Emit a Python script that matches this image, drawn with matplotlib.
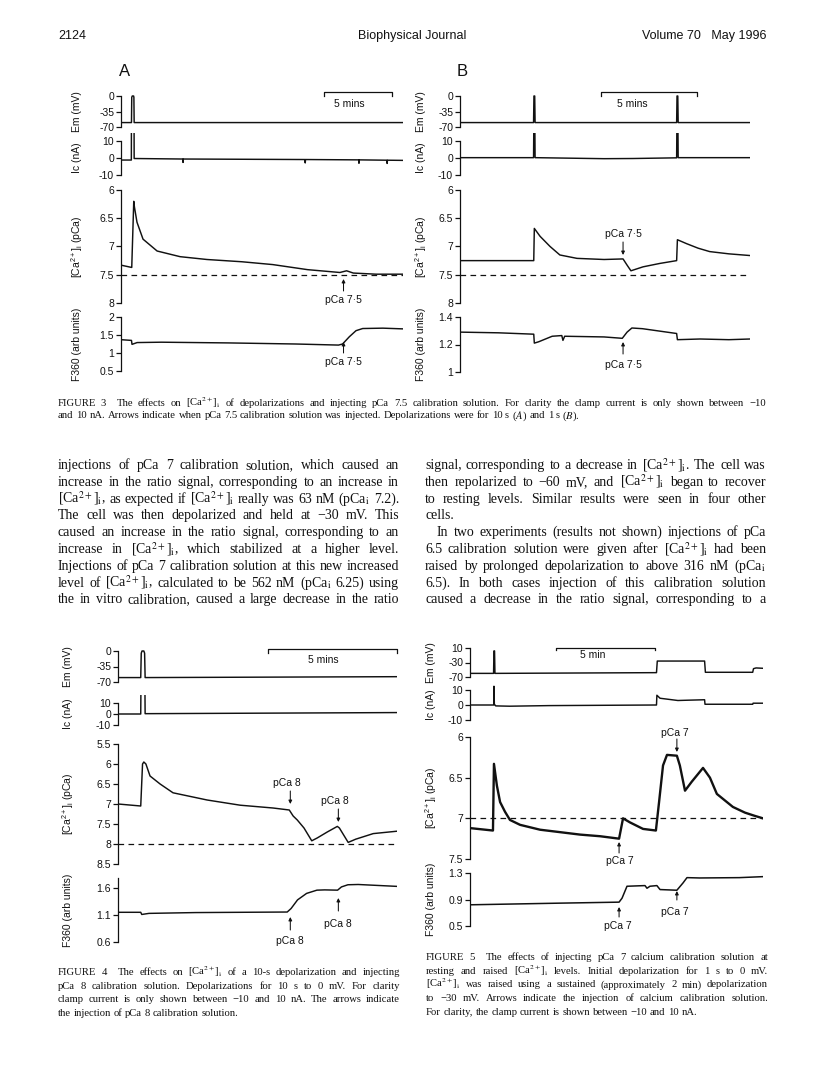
import matplotlib
matplotlib.use("Agg")
import matplotlib.pyplot as plt
from matplotlib import font_manager
from matplotlib.transforms import blended_transform_factory, IdentityTransform

# ---------------- data (time in min) ----------------
# Figure 3A
em3a_t = [0, 0.78, 0.8, 0.84, 0.94, 0.96, 0.98, 21.0]
em3a = [-60, -60, -3, 0, 0, -3, -60, -60]
ic3a_t = [0, 0.77, 0.78, 0.97, 0.98, 4.6, 4.62, 4.64, 13.7, 13.72, 13.74,
          17.7, 17.72, 17.74, 19.8, 19.82, 19.84, 21.0]
ic3a = [-1.2, -1.2, 30, 30, -0.3, -0.6, -2.6, -0.6, -0.9, -2.9, -0.9,
        -1.1, -3.1, -1.1, -1.3, -3.2, -1.3, -1.4]
ca3a_t = [0, 0.78, 0.8, 0.95, 1.0, 1.19, 1.64, 2.69, 4.4, 6.4, 9.0, 11.3,
          13.9, 16.3, 16.8, 17.3, 19.0, 21.0]
ca3a = [7.33, 7.37, 7.37, 6.2, 6.3, 6.57, 6.87, 7.08, 7.18, 7.23, 7.27, 7.32,
        7.41, 7.46, 7.43, 7.47, 7.49, 7.49]
f3a_t = [0, 0.78, 0.82, 1.2, 3.0, 8.0, 13.0, 16.2, 16.5, 17.0, 17.5, 18.0, 19.5, 21.0]
f3a = [1.37, 1.35, 1.24, 1.29, 1.3, 1.28, 1.25, 1.22, 1.25, 1.45, 1.62, 1.68, 1.69, 1.67]

# Figure 3B
em3b_t = [0, 3.83, 3.85, 3.89, 3.91, 11.28, 11.3, 11.34, 11.36, 15.1]
em3b = [-60, -60, 0, 0, -60, -60, 0, 0, -60, -60]
ic3b_t = [0, 3.83, 3.85, 3.89, 3.91, 7.5, 9.0, 11.28, 11.3, 11.34, 11.36, 15.1]
ic3b = [0.2, 0.2, 30, 30, 0.2, -0.4, -0.3, 0.1, 30, 30, 0.2, 0.2]
ca3b_t = [0, 3.84, 3.87, 4.17, 4.69, 5.2, 6.09, 7.5, 8.49, 8.7, 8.9, 9.53, 10.4,
          11.28, 11.32, 11.8, 12.4, 13.0, 14.0, 15.1]
ca3b = [7.25, 7.25, 6.68, 6.82, 7.0, 7.15, 7.21, 7.23, 7.22, 7.33, 7.43, 7.36, 7.3,
        7.25, 6.88, 6.95, 7.03, 7.09, 7.13, 7.16]
f3b_t = [0, 2.0, 3.84, 3.87, 4.1, 4.8, 5.3, 5.36, 5.45, 7.5, 8.45, 8.7, 8.95, 9.5,
         11.28, 11.32, 12.5, 14.0, 15.1]
f3b = [1.29, 1.285, 1.275, 1.21, 1.22, 1.26, 1.265, 1.23, 1.26, 1.255, 1.245, 1.29,
       1.32, 1.315, 1.28, 1.235, 1.24, 1.235, 1.24]

# Figure 4
em4_t = [0, 0.88, 0.9, 0.93, 1.0, 1.03, 1.05, 10.8]
em4 = [-60, -60, -5, 0, 0, -5, -60, -58]
ic4_t = [0, 0.88, 0.89, 1.04, 1.05, 6.0, 10.8]
ic4 = [0, 0, 30, 30, 0.3, 0.8, 1.3]
ca4_t = [0, 0.88, 0.95, 1.0, 1.08, 1.24, 1.63, 2.13, 3.45, 4.73, 6.0, 6.63, 6.78,
         6.94, 7.2, 7.5, 7.71, 8.1, 8.49, 8.57, 8.91, 9.2, 9.88, 10.8]
ca4 = [7.0, 7.05, 6.0, 5.95, 6.0, 6.3, 6.5, 6.72, 6.9, 7.03, 7.1, 7.15, 7.3,
       7.4, 7.6, 7.92, 7.85, 7.7, 7.56, 7.6, 7.96, 7.88, 7.74, 7.68]
f4_t = [0, 0.88, 0.92, 1.2, 3.0, 6.55, 6.7, 6.95, 7.3, 7.7, 8.0, 8.5, 8.65, 8.9, 9.3, 10.8]
f4 = [1.15, 1.15, 1.11, 1.13, 1.145, 1.155, 1.22, 1.38, 1.5, 1.56, 1.565, 1.56,
      1.62, 1.66, 1.665, 1.63]

# Figure 5
em5_t = [0, 1.19, 1.21, 1.24, 1.26, 9.42, 9.46, 11.85, 11.89, 14.28, 14.32, 14.45, 14.8]
em5 = [-60, -60, 2, 2, -60, -58, -26, -26, -57, -57, -47, -45, -46]
ic5_t = [0, 1.2, 1.21, 1.23, 1.3, 2.0, 4.0, 9.42, 9.44, 9.6, 10.5, 11.0, 11.85,
         11.87, 14.28, 14.3, 14.8]
ic5 = [0, 0, 12.5, 0.5, -0.6, -0.8, -0.4, 0, 6.5, 4.5, 3, 3.2, 3.5, 0.5, 0.5, 1.2, 1.2]
ca5_t = [0, 1.16, 1.21, 1.36, 1.52, 1.77, 2.02, 2.53, 3.54, 4.55, 5.56, 6.57, 7.53,
         7.73, 8.08, 8.74, 9.39, 9.55, 9.75, 9.95, 10.45, 10.6, 10.86, 11.2, 11.77,
         12.12, 12.47, 13.28, 13.89, 14.39, 14.8]
ca5 = [7.12, 7.15, 6.33, 6.6, 6.8, 6.92, 7.02, 7.08, 7.14, 7.17, 7.2, 7.22, 7.25,
       7.0, 7.05, 7.13, 7.15, 6.8, 6.35, 6.22, 6.23, 6.35, 6.66, 6.55, 6.38,
       6.5, 6.7, 6.86, 6.93, 6.97, 7.0]
f5_t = [0, 4.55, 7.53, 7.68, 7.93, 8.84, 8.94, 9.09, 9.44, 9.6, 10.45, 10.76, 10.96,
        11.6, 13.6, 14.8]
f5 = [0.82, 0.845, 0.86, 0.92, 1.1, 1.11, 1.07, 1.1, 1.11, 1.05, 1.04, 1.15, 1.23,
      1.225, 1.23, 1.245]

# ---------------- text ----------------
CA = r"[Ca$^{2+}$]$_\mathrm{i}$"
PCAI = r"pCa$_\mathrm{i}$"
body_left = [
    "injections of pCa 7 calibration solution, which caused an",
    "increase in the ratio signal, corresponding to an increase in",
    CA + ", as expected if " + CA + " really was 63 nM (" + PCAI + " 7.2).",
    "The cell was then depolarized and held at \u221230 mV. This",
    "caused an increase in the ratio signal, corresponding to an",
    "increase in " + CA + ", which stabilized at a higher level.",
    "Injections of pCa 7 calibration solution at this new increased",
    "level of " + CA + ", calculated to be 562 nM (" + PCAI + " 6.25) using",
    "the in vitro calibration, caused a large decrease in the ratio",
]
body_right = [
    "signal, corresponding to a decrease in " + CA + ". The cell was",
    "then repolarized to \u221260 mV, and " + CA + " began to recover",
    "to resting levels. Similar results were seen in four other",
    "cells.",
    "In two experiments (results not shown) injections of pCa",
    "6.5 calibration solution were given after " + CA + " had been",
    "raised by prolonged depolarization to above 316 nM (" + PCAI,
    "6.5). In both cases injection of this calibration solution",
    "caused a decrease in the ratio signal, corresponding to a",
]
cap3 = [
    "FIGURE 3\u00a0\u00a0 The effects on " + CA + " of depolarizations and injecting pCa 7.5 calibration solution. For clarity the clamp current is only shown between \u221210",
    r"and 10 nA. Arrows indicate when pCa 7.5 calibration solution was injected. Depolarizations were for 10 s ($\mathit{A}$) and 1 s ($\mathit{B}$).",
]
cap4 = [
    "FIGURE 4\u00a0\u00a0 The effects on " + CA + " of a 10-s depolarization and injecting",
    "pCa 8 calibration solution. Depolarizations for 10 s to 0 mV. For clarity",
    "clamp current is only shown between \u221210 and 10 nA. The arrows indicate",
    "the injection of pCa 8 calibration solution.",
]
cap5 = [
    "FIGURE 5\u00a0\u00a0 The effects of injecting pCa 7 calcium calibration solution at",
    "resting and raised " + CA + " levels. Initial depolarization for 1 s to 0 mV.",
    CA + " was raised using a sustained (approximately 2 min) depolarization",
    "to \u221230 mV. Arrows indicate the injection of calcium calibration solution.",
    "For clarity, the clamp current is shown between \u221210 and 10 nA.",
]
ca_label = CA + " (pCa)"

# ---------------- setup ----------------
plt.rcParams["font.family"] = ["Liberation Sans", "DejaVu Sans"]
plt.rcParams["mathtext.fontset"] = "custom"
plt.rcParams["mathtext.rm"] = "Liberation Sans"
plt.rcParams["mathtext.it"] = "Liberation Sans:italic"
names = {f.name for f in font_manager.fontManager.ttflist}
narrow = "Liberation Sans Narrow" if "Liberation Sans Narrow" in names else "Liberation Sans"

W, H = 816, 1078
fig = plt.figure(figsize=(W / 100, H / 100), dpi=100)
fig.patch.set_facecolor("white")
INK = "#111111"
FS = 7.5
LW = 1.05
SERIF = "Liberation Serif"


def T(x, y, s, **kw):
    return fig.text(x / W, 1 - y / H, s, **kw)


def add_axes(x0, x1, p_hi, p_lo, v_hi, v_lo, ticks, labels, xmax,
             spine_hi=None, pad_top=8, pad_bot=3):
    k = (v_hi - v_lo) / (p_lo - p_hi)
    top, bot = p_hi - pad_top, p_lo + pad_bot
    ax = fig.add_axes([x0 / W, 1 - bot / H, (x1 - x0) / W, (bot - top) / H])
    ax.set_ylim(v_lo - pad_bot * k, v_hi + pad_top * k)
    ax.set_xlim(0, xmax)
    ax.patch.set_visible(False)
    for s in ["top", "right", "bottom"]:
        ax.spines[s].set_visible(False)
    ax.spines["left"].set_bounds(v_lo, spine_hi if spine_hi is not None else v_hi)
    ax.spines["left"].set_linewidth(0.9)
    ax.spines["left"].set_color(INK)
    ax.set_xticks([])
    ax.set_yticks(ticks)
    ax.set_yticklabels(labels)
    ax.tick_params(axis="y", direction="out", length=3.5, width=0.9, pad=1.5,
                   labelsize=FS, colors=INK)
    return ax


def trace(ax, t, v, lw=LW):
    ax.plot(t, v, color=INK, lw=lw, solid_joinstyle="round")


def ylab(x, y, s):
    T(x, y, s, rotation=90, ha="center", va="center", fontsize=FS, color=INK)


def arrow(ax, t, y_tail, y_tip):
    ax.annotate("", xy=(t, H - y_tip), xycoords=("data", "figure pixels"),
                xytext=(t, H - y_tail), textcoords=("data", "figure pixels"),
                arrowprops=dict(arrowstyle="-|>", lw=0.75, color=INK,
                                mutation_scale=5, shrinkA=0, shrinkB=0))


def alabel(ax, t, y, s):
    ax.annotate(s, xy=(t, H - y), xycoords=("data", "figure pixels"),
                ha="center", va="center", fontsize=FS, color=INK)


def scalebar(ax, t0, t1, y, tick, lx, ly, s):
    tr = blended_transform_factory(ax.transData, IdentityTransform())
    ax.plot([t0, t0, t1, t1], [H - y - tick, H - y, H - y, H - y - tick],
            transform=tr, color=INK, lw=0.9, clip_on=False)
    T(lx, ly, s, ha="center", va="center", fontsize=FS, color=INK)


def panel(x0, x1, xmax, rows, lab_x):
    axs = []
    for (p_hi, p_lo, v_hi, v_lo, ticks, labels, label, spine_hi) in rows:
        ax = add_axes(x0, x1, p_hi, p_lo, v_hi, v_lo, ticks, labels, xmax, spine_hi)
        ylab(lab_x, (p_hi + p_lo) / 2 if spine_hi is None else (p_hi - 10 + p_lo) / 2, label)
        axs.append(ax)
    return axs


renderer = fig.canvas.get_renderer()


def justify(line, x0, x1, yb, size, last=False, indent=0):
    words = [w for w in line.split(" ") if w]
    arts = [fig.text(0, 0, w, fontsize=size, family=SERIF, math_fontfamily="stix",
                     va="baseline", ha="left", color=INK) for w in words]
    ws = [a.get_window_extent(renderer).width for a in arts]
    space = size * 0.25 * 100 / 72
    if last or len(words) == 1:
        gap = space
    else:
        gap = (x1 - x0 - indent - sum(ws)) / (len(words) - 1)
    x = x0 + indent
    for a, w in zip(arts, ws):
        a.set_position((x / W, 1 - yb / H))
        x += w + gap


# ---------------- header ----------------
T(58, 36, "2124", ha="left", va="center", fontsize=9, family=narrow, color=INK)
T(412, 36, "Biophysical Journal", ha="center", va="center", fontsize=9, family=narrow, color=INK)
T(766, 36, "Volume 70   May 1996", ha="right", va="center", fontsize=9, family=narrow, color=INK)
T(125, 71, "A", ha="center", va="center", fontsize=12, family=narrow, color=INK)
T(462, 71, "B", ha="center", va="center", fontsize=12, family=narrow, color=INK)

# ---------------- Figure 3A ----------------
a_em, a_ic, a_ca, a_f = panel(121, 403, 21.0, [
    (96, 127, 0, -70, [0, -35, -70], ["0", "-35", "-70"], "Em (mV)", None),
    (141, 175, 10, -10, [10, 0, -10], ["10", "0", "-10"], "Ic (nA)", None),
    (190, 303, 6, 8, [6, 6.5, 7, 7.5, 8], ["6", "6.5", "7", "7.5", "8"], ca_label, None),
    (317, 371, 2, 0.5, [2, 1.5, 1, 0.5], ["2", "1.5", "1", "0.5"], "F360 (arb units)", None),
], 77)
trace(a_em, em3a_t, em3a)
trace(a_ic, ic3a_t, ic3a)
trace(a_ca, ca3a_t, ca3a)
a_ca.axhline(7.5, color=INK, lw=0.9, dashes=(4.5, 3.5))
trace(a_f, f3a_t, f3a)
scalebar(a_em, 15.15, 20.15, 92, 4, 349, 104, "5 mins")
arrow(a_ca, 16.57, 291, 279)
alabel(a_ca, 16.57, 300, "pCa 7\u00b75")
arrow(a_f, 16.57, 353, 342)
alabel(a_f, 16.57, 362, "pCa 7\u00b75")

# ---------------- Figure 3B ----------------
b_em, b_ic, b_ca, b_f = panel(460, 750, 15.1, [
    (96, 127, 0, -70, [0, -35, -70], ["0", "-35", "-70"], "Em (mV)", None),
    (141, 175, 10, -10, [10, 0, -10], ["10", "0", "-10"], "Ic (nA)", None),
    (190, 303, 6, 8, [6, 6.5, 7, 7.5, 8], ["6", "6.5", "7", "7.5", "8"], ca_label, None),
    (317, 372, 1.4, 1.0, [1.4, 1.2, 1.0], ["1.4", "1.2", "1"], "F360 (arb units)", None),
], 421)
trace(b_em, em3b_t, em3b)
trace(b_ic, ic3b_t, ic3b)
trace(b_ca, ca3b_t, ca3b)
b_ca.axhline(7.5, color=INK, lw=0.9, dashes=(4.5, 3.5))
trace(b_f, f3b_t, f3b)
scalebar(b_em, 7.35, 12.35, 92, 4, 632, 104, "5 mins")
alabel(b_ca, 8.49, 234, "pCa 7\u00b75")
arrow(b_ca, 8.49, 242, 255)
arrow(b_f, 8.49, 354, 342)
alabel(b_f, 8.49, 365, "pCa 7\u00b75")

# ---------------- captions / body ----------------
justify(cap3[0], 58, 766, 405.5, 7.7)
justify(cap3[1], 58, 766, 418.5, 7.7, last=True)
for i, line in enumerate(body_left):
    justify(line, 58, 399, 469 + i * 16.8, 10)
for i, line in enumerate(body_right):
    justify(line, 425, 766, 469 + i * 16.8, 10, last=(i == 3), indent=(12 if i == 4 else 0))

# ---------------- Figure 4 ----------------
c_em, c_ic, c_ca, c_f = panel(118, 397, 10.8, [
    (651, 682, 0, -70, [0, -35, -70], ["0", "-35", "-70"], "Em (mV)", None),
    (703, 725, 10, -10, [10, 0, -10], ["10", "0", "-10"], "Ic (nA)", None),
    (744, 864, 5.5, 8.5, [5.5, 6, 6.5, 7, 7.5, 8, 8.5],
     ["5.5", "6", "6.5", "7", "7.5", "8", "8.5"], ca_label, None),
    (888, 942, 1.6, 0.6, [1.6, 1.1, 0.6], ["1.6", "1.1", "0.6"], "F360 (arb units)", 1.78),
], 68)
trace(c_em, em4_t, em4)
trace(c_ic, ic4_t, ic4)
trace(c_ca, ca4_t, ca4)
c_ca.axhline(8.0, color=INK, lw=0.9, dashes=(4.5, 3.5))
trace(c_f, f4_t, f4)
scalebar(c_em, 5.81, 10.81, 649, 4, 323, 660, "5 mins")
alabel(c_ca, 6.55, 783, "pCa 8")
arrow(c_ca, 6.67, 791, 804)
alabel(c_ca, 8.4, 801, "pCa 8")
arrow(c_ca, 8.53, 809, 822)
arrow(c_f, 6.67, 930, 917)
alabel(c_f, 6.67, 941, "pCa 8")
arrow(c_f, 8.53, 911, 898)
alabel(c_f, 8.53, 924, "pCa 8")

# ---------------- Figure 5 ----------------
d_em, d_ic, d_ca, d_f = panel(470, 763, 14.8, [
    (648, 677, 10, -70, [10, -30, -70], ["10", "-30", "-70"], "Em (mV)", None),
    (690, 720, 10, -10, [10, 0, -10], ["10", "0", "-10"], "Ic (nA)", None),
    (737, 859, 6, 7.5, [6, 6.5, 7, 7.5], ["6", "6.5", "7", "7.5"], ca_label, None),
    (873, 926, 1.3, 0.5, [1.3, 0.9, 0.5], ["1.3", "0.9", "0.5"], "F360 (arb units)", None),
], 431)
trace(d_em, em5_t, em5)
trace(d_ic, ic5_t, ic5)
trace(d_ca, ca5_t, ca5, lw=1.7)
d_ca.axhline(7.0, color=INK, lw=0.9, dashes=(4.5, 3.5))
trace(d_f, f5_t, f5, lw=1.1)
scalebar(d_em, 4.34, 9.34, 648, 2, 593, 655, "5 min")
alabel(d_ca, 10.35, 733, "pCa 7")
arrow(d_ca, 10.45, 739, 752)
arrow(d_ca, 7.53, 853, 842)
alabel(d_ca, 7.58, 861, "pCa 7")
arrow(d_f, 7.53, 917, 907)
alabel(d_f, 7.45, 926, "pCa 7")
arrow(d_f, 10.45, 900, 891)
alabel(d_f, 10.35, 912, "pCa 7")

for i, line in enumerate(cap4):
    justify(line, 58, 400, 975 + i * 13.7, 7.7, last=(i == len(cap4) - 1))
for i, line in enumerate(cap5):
    justify(line, 426, 768, 960 + i * 13.7, 7.7, last=(i == len(cap5) - 1))

fig.savefig("out.png", dpi=100, facecolor="white")
